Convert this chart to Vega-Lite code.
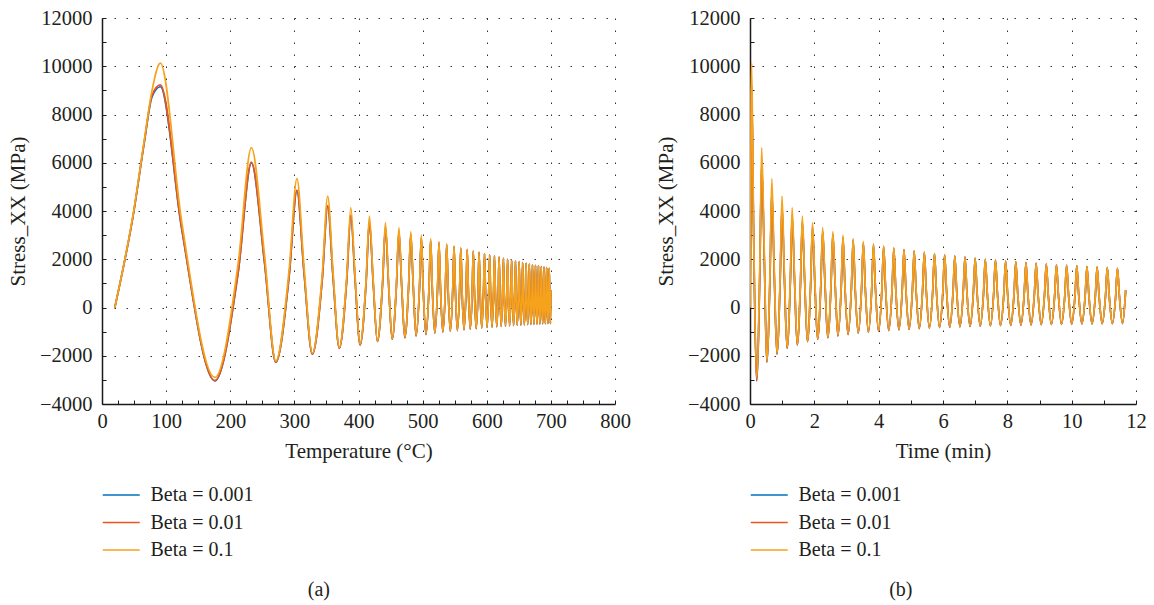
{
  "$schema": "https://vega.github.io/schema/vega-lite/v6.json",
  "background": "white",
  "padding": {"left": 7, "top": 8, "right": 5, "bottom": 3},
  "data": {"values": [
    {"time":0,"temp":20,"b1":0,"b2":0,"b3":0},
    {"time":0.021,"temp":50,"b1":4040,"b2":4050,"b3":4100},
    {"time":0.032,"temp":66,"b1":6850,"b2":6880,"b3":6950},
    {"time":0.04,"temp":78,"b1":8730,"b2":8800,"b3":9000},
    {"time":0.05,"temp":91,"b1":9150,"b2":9230,"b3":10130},
    {"time":0.11,"temp":124,"b1":3300,"b2":3330,"b3":3615},
    {"time":0.205,"temp":176,"b1":-3040,"b2":-3030,"b3":-2900},
    {"time":0.306,"temp":212.5,"b1":1475,"b2":1500,"b3":1862},
    {"time":0.363,"temp":233,"b1":5990,"b2":6030,"b3":6625},
    {"time":0.447,"temp":253.4,"b1":1860,"b2":1885,"b3":2202},
    {"time":0.521,"temp":271,"b1":-2270,"b2":-2260,"b3":-2220},
    {"time":0.622,"temp":291.8,"b1":1285,"b2":1305,"b3":1560},
    {"time":0.679,"temp":304,"b1":4840,"b2":4870,"b3":5340},
    {"time":0.752,"temp":315,"b1":1452,"b2":1470,"b3":1725},
    {"time":0.837,"temp":328,"b1":-1935,"b2":-1930,"b3":-1890},
    {"time":0.938,"temp":343.4,"b1":1132,"b2":1145,"b3":1365},
    {"time":0.995,"temp":352,"b1":4200,"b2":4220,"b3":4620},
    {"time":1.068,"temp":360.3,"b1":1255,"b2":1265,"b3":1485},
    {"time":1.153,"temp":370,"b1":-1690,"b2":-1690,"b3":-1650},
    {"time":1.254,"temp":381.5,"b1":1060,"b2":1065,"b3":1245},
    {"time":1.311,"temp":388,"b1":3810,"b2":3820,"b3":4140},
    {"time":1.384,"temp":394.7,"b1":1130,"b2":1135,"b3":1315},
    {"time":1.469,"temp":402.5,"b1":-1550,"b2":-1550,"b3":-1510},
    {"time":1.57,"temp":411.8,"b1":1005,"b2":1005,"b3":1140},
    {"time":1.627,"temp":417,"b1":3560,"b2":3560,"b3":3790},
    {"time":1.7,"temp":422.8,"b1":1075,"b2":1075,"b3":1205},
    {"time":1.785,"temp":429.5,"b1":-1410,"b2":-1410,"b3":-1380},
    {"time":1.886,"temp":437.5,"b1":960,"b2":960,"b3":1070},
    {"time":1.943,"temp":442,"b1":3330,"b2":3330,"b3":3520},
    {"time":2.016,"temp":446.8,"b1":1008,"b2":1008,"b3":1118},
    {"time":2.101,"temp":452.5,"b1":-1315,"b2":-1315,"b3":-1285},
    {"time":2.202,"temp":459.2,"b1":922,"b2":922,"b3":1012},
    {"time":2.259,"temp":463,"b1":3160,"b2":3160,"b3":3310},
    {"time":2.332,"temp":467.2,"b1":958,"b2":958,"b3":1048},
    {"time":2.417,"temp":472.2,"b1":-1245,"b2":-1245,"b3":-1215},
    {"time":2.518,"temp":478.2,"b1":892,"b2":892,"b3":968},
    {"time":2.575,"temp":481.5,"b1":3030,"b2":3030,"b3":3150},
    {"time":2.648,"temp":485.3,"b1":925,"b2":925,"b3":1000},
    {"time":2.733,"temp":489.8,"b1":-1180,"b2":-1180,"b3":-1150},
    {"time":2.837,"temp":495.2,"b1":860,"b2":860,"b3":925},
    {"time":2.891,"temp":498,"b1":2900,"b2":2900,"b3":3000},
    {"time":2.951,"temp":500.7,"b1":890,"b2":890,"b3":950},
    {"time":3.049,"temp":505.2,"b1":-1120,"b2":-1120,"b3":-1100},
    {"time":3.153,"temp":510,"b1":830,"b2":830,"b3":880},
    {"time":3.207,"temp":512.5,"b1":2780,"b2":2780,"b3":2860},
    {"time":3.267,"temp":515,"b1":858,"b2":858,"b3":908},
    {"time":3.365,"temp":519,"b1":-1065,"b2":-1065,"b3":-1045},
    {"time":3.469,"temp":523.3,"b1":808,"b2":808,"b3":850},
    {"time":3.523,"temp":525.5,"b1":2680,"b2":2680,"b3":2745},
    {"time":3.583,"temp":527.8,"b1":830,"b2":830,"b3":872},
    {"time":3.681,"temp":531.5,"b1":-1020,"b2":-1020,"b3":-1000},
    {"time":3.785,"temp":535.5,"b1":790,"b2":790,"b3":825},
    {"time":3.839,"temp":537.5,"b1":2600,"b2":2600,"b3":2650},
    {"time":3.899,"temp":539.7,"b1":808,"b2":808,"b3":842},
    {"time":3.997,"temp":543.2,"b1":-985,"b2":-985,"b3":-965},
    {"time":4.101,"temp":547,"b1":770,"b2":770,"b3":800},
    {"time":4.155,"temp":549,"b1":2525,"b2":2525,"b3":2565},
    {"time":4.215,"temp":551,"b1":785,"b2":785,"b3":815},
    {"time":4.313,"temp":554.2,"b1":-955,"b2":-955,"b3":-935},
    {"time":4.417,"temp":557.7,"b1":750,"b2":750,"b3":775},
    {"time":4.471,"temp":559.5,"b1":2455,"b2":2455,"b3":2485},
    {"time":4.531,"temp":561.4,"b1":765,"b2":765,"b3":790},
    {"time":4.629,"temp":564.5,"b1":-925,"b2":-925,"b3":-905},
    {"time":4.733,"temp":567.8,"b1":735,"b2":735,"b3":755},
    {"time":4.787,"temp":569.5,"b1":2395,"b2":2395,"b3":2415},
    {"time":4.847,"temp":571.3,"b1":748,"b2":748,"b3":768},
    {"time":4.945,"temp":574.2,"b1":-900,"b2":-900,"b3":-880},
    {"time":5.049,"temp":577.4,"b1":720,"b2":720,"b3":735},
    {"time":5.103,"temp":579,"b1":2340,"b2":2340,"b3":2350},
    {"time":5.163,"temp":580.7,"b1":732,"b2":732,"b3":748},
    {"time":5.261,"temp":583.5,"b1":-875,"b2":-875,"b3":-855},
    {"time":5.365,"temp":586.5,"b1":708,"b2":708,"b3":718},
    {"time":5.419,"temp":588,"b1":2290,"b2":2290,"b3":2290},
    {"time":5.479,"temp":589.6,"b1":720,"b2":720,"b3":728},
    {"time":5.577,"temp":592.2,"b1":-850,"b2":-850,"b3":-835},
    {"time":5.681,"temp":595,"b1":692,"b2":692,"b3":700},
    {"time":5.735,"temp":596.5,"b1":2235,"b2":2235,"b3":2235},
    {"time":5.795,"temp":598,"b1":702,"b2":702,"b3":710},
    {"time":5.893,"temp":600.5,"b1":-830,"b2":-830,"b3":-815},
    {"time":5.997,"temp":603.1,"b1":675,"b2":675,"b3":682},
    {"time":6.051,"temp":604.5,"b1":2180,"b2":2180,"b3":2180},
    {"time":6.111,"temp":605.9,"b1":682,"b2":682,"b3":690},
    {"time":6.209,"temp":608.2,"b1":-815,"b2":-815,"b3":-800},
    {"time":6.313,"temp":610.7,"b1":658,"b2":658,"b3":665},
    {"time":6.367,"temp":612,"b1":2130,"b2":2130,"b3":2130},
    {"time":6.427,"temp":613.4,"b1":665,"b2":665,"b3":672},
    {"time":6.525,"temp":615.6,"b1":-800,"b2":-800,"b3":-785},
    {"time":6.629,"temp":618,"b1":642,"b2":642,"b3":650},
    {"time":6.683,"temp":619.2,"b1":2085,"b2":2085,"b3":2085},
    {"time":6.743,"temp":620.5,"b1":650,"b2":650,"b3":658},
    {"time":6.841,"temp":622.6,"b1":-785,"b2":-785,"b3":-770},
    {"time":6.945,"temp":624.8,"b1":628,"b2":628,"b3":635},
    {"time":6.999,"temp":626,"b1":2040,"b2":2040,"b3":2040},
    {"time":7.059,"temp":627.2,"b1":634,"b2":634,"b3":642},
    {"time":7.157,"temp":629.2,"b1":-772,"b2":-772,"b3":-757},
    {"time":7.261,"temp":631.4,"b1":614,"b2":614,"b3":622},
    {"time":7.315,"temp":632.5,"b1":2000,"b2":2000,"b3":2000},
    {"time":7.375,"temp":633.7,"b1":620,"b2":620,"b3":628},
    {"time":7.473,"temp":635.6,"b1":-760,"b2":-760,"b3":-745},
    {"time":7.577,"temp":637.7,"b1":600,"b2":600,"b3":608},
    {"time":7.631,"temp":638.8,"b1":1960,"b2":1960,"b3":1960},
    {"time":7.691,"temp":639.9,"b1":606,"b2":606,"b3":613},
    {"time":7.789,"temp":641.8,"b1":-749,"b2":-749,"b3":-734},
    {"time":7.893,"temp":643.8,"b1":588,"b2":588,"b3":596},
    {"time":7.947,"temp":644.8,"b1":1925,"b2":1925,"b3":1925},
    {"time":8.007,"temp":645.9,"b1":594,"b2":594,"b3":601},
    {"time":8.105,"temp":647.6,"b1":-738,"b2":-738,"b3":-723},
    {"time":8.209,"temp":649.5,"b1":576,"b2":576,"b3":584},
    {"time":8.263,"temp":650.5,"b1":1890,"b2":1890,"b3":1890},
    {"time":8.323,"temp":651.5,"b1":581,"b2":581,"b3":588},
    {"time":8.421,"temp":653.2,"b1":-728,"b2":-728,"b3":-713},
    {"time":8.525,"temp":655,"b1":565,"b2":565,"b3":572},
    {"time":8.579,"temp":656,"b1":1858,"b2":1858,"b3":1858},
    {"time":8.639,"temp":657,"b1":570,"b2":570,"b3":577},
    {"time":8.737,"temp":658.6,"b1":-719,"b2":-719,"b3":-704},
    {"time":8.841,"temp":660.4,"b1":555,"b2":555,"b3":562},
    {"time":8.895,"temp":661.3,"b1":1828,"b2":1828,"b3":1828},
    {"time":8.955,"temp":662.3,"b1":558,"b2":558,"b3":566},
    {"time":9.053,"temp":663.8,"b1":-711,"b2":-711,"b3":-696},
    {"time":9.157,"temp":665.5,"b1":544,"b2":544,"b3":552},
    {"time":9.211,"temp":666.4,"b1":1800,"b2":1800,"b3":1800},
    {"time":9.271,"temp":667.3,"b1":548,"b2":548,"b3":556},
    {"time":9.369,"temp":668.8,"b1":-703,"b2":-703,"b3":-688},
    {"time":9.473,"temp":670.5,"b1":535,"b2":535,"b3":542},
    {"time":9.527,"temp":671.3,"b1":1773,"b2":1773,"b3":1773},
    {"time":9.587,"temp":672.2,"b1":538,"b2":538,"b3":546},
    {"time":9.685,"temp":673.6,"b1":-696,"b2":-696,"b3":-681},
    {"time":9.789,"temp":675.2,"b1":526,"b2":526,"b3":534},
    {"time":9.843,"temp":676,"b1":1748,"b2":1748,"b3":1748},
    {"time":9.903,"temp":676.9,"b1":529,"b2":529,"b3":536},
    {"time":10.001,"temp":678.3,"b1":-690,"b2":-690,"b3":-675},
    {"time":10.105,"temp":679.8,"b1":517,"b2":517,"b3":524},
    {"time":10.159,"temp":680.6,"b1":1724,"b2":1724,"b3":1724},
    {"time":10.219,"temp":681.4,"b1":520,"b2":520,"b3":528},
    {"time":10.317,"temp":682.8,"b1":-684,"b2":-684,"b3":-669},
    {"time":10.421,"temp":684.3,"b1":508,"b2":508,"b3":516},
    {"time":10.475,"temp":685,"b1":1700,"b2":1700,"b3":1700},
    {"time":10.535,"temp":685.8,"b1":510,"b2":510,"b3":518},
    {"time":10.633,"temp":687.2,"b1":-679,"b2":-679,"b3":-664},
    {"time":10.737,"temp":688.6,"b1":498,"b2":498,"b3":506},
    {"time":10.791,"temp":689.3,"b1":1675,"b2":1675,"b3":1675},
    {"time":10.851,"temp":690.1,"b1":500,"b2":500,"b3":508},
    {"time":10.949,"temp":691.4,"b1":-674,"b2":-674,"b3":-659},
    {"time":11.053,"temp":692.7,"b1":488,"b2":488,"b3":496},
    {"time":11.107,"temp":693.4,"b1":1650,"b2":1650,"b3":1650},
    {"time":11.167,"temp":694.2,"b1":490,"b2":490,"b3":498},
    {"time":11.265,"temp":695.4,"b1":-670,"b2":-670,"b3":-655},
    {"time":11.369,"temp":696.7,"b1":478,"b2":478,"b3":485},
    {"time":11.423,"temp":697.4,"b1":1625,"b2":1625,"b3":1625},
    {"time":11.483,"temp":698.1,"b1":480,"b2":480,"b3":487},
    {"time":11.581,"temp":699.3,"b1":-666,"b2":-666,"b3":-651},
    {"time":11.68,"temp":700,"b1":720,"b2":720,"b3":720}
  ]},
  "transform": [{"fold": ["b1", "b2", "b3"], "as": ["series", "stress"]}],
  "spacing": 24,
  "resolve": {"scale": {"color": "independent"}, "legend": {"color": "independent"}},
  "hconcat": [
    {
      "width": 513,
      "height": 386,
      "title": {"text": "(a)"},
      "mark": {"type": "line", "interpolate": "monotone", "strokeWidth": 1.7, "clip": true},
      "encoding": {
        "x": {
          "field": "temp", "type": "quantitative",
          "scale": {"domain": [0, 800], "nice": false, "zero": false},
          "axis": {
            "title": "Temperature (°C)", "format": "d",
            "values": [0,25,50,75,100,125,150,175,200,225,250,275,300,325,350,375,400,425,450,475,500,525,550,575,600,625,650,675,700,725,750,775,800],
            "labelExpr": "datum.value % 100 === 0 ? datum.label : ''",
            "gridOpacity": {"condition": {"test": "datum.value % 100 === 0", "value": 1}, "value": 0}
          }
        },
        "y": {
          "field": "stress", "type": "quantitative",
          "scale": {"domain": [-4000, 12000], "nice": false, "zero": false},
          "axis": {
            "title": "Stress_XX (MPa)", "format": "d",
            "values": [-4000,-3000,-2000,-1000,0,1000,2000,3000,4000,5000,6000,7000,8000,9000,10000,11000,12000],
            "labelExpr": "datum.value % 2000 === 0 ? datum.label : ''",
            "gridOpacity": {"condition": {"test": "datum.value % 2000 === 0", "value": 1}, "value": 0}
          }
        },
        "color": {
          "field": "series", "type": "nominal",
          "scale": {"domain": ["b1", "b2", "b3"], "range": ["#0072BD", "#E9541F", "#F5A31C"]},
          "legend": {"labelExpr": "datum.label === 'b1' ? 'Beta = 0.001' : datum.label === 'b2' ? 'Beta = 0.01' : 'Beta = 0.1'"}
        }
      }
    },
    {
      "width": 386,
      "height": 386,
      "title": {"text": "(b)"},
      "mark": {"type": "line", "interpolate": "monotone", "strokeWidth": 1.7, "clip": true},
      "encoding": {
        "x": {
          "field": "time", "type": "quantitative",
          "scale": {"domain": [0, 12], "nice": false, "zero": false},
          "axis": {
            "title": "Time (min)", "format": "d",
            "values": [0,0.5,1,1.5,2,2.5,3,3.5,4,4.5,5,5.5,6,6.5,7,7.5,8,8.5,9,9.5,10,10.5,11,11.5,12],
            "labelExpr": "datum.value % 2 === 0 ? datum.label : ''",
            "gridOpacity": {"condition": {"test": "datum.value % 2 === 0", "value": 1}, "value": 0}
          }
        },
        "y": {
          "field": "stress", "type": "quantitative",
          "scale": {"domain": [-4000, 12000], "nice": false, "zero": false},
          "axis": {
            "title": "Stress_XX (MPa)", "format": "d",
            "values": [-4000,-3000,-2000,-1000,0,1000,2000,3000,4000,5000,6000,7000,8000,9000,10000,11000,12000],
            "labelExpr": "datum.value % 2000 === 0 ? datum.label : ''",
            "gridOpacity": {"condition": {"test": "datum.value % 2000 === 0", "value": 1}, "value": 0}
          }
        },
        "color": {
          "field": "series", "type": "nominal",
          "scale": {"domain": ["b1", "b2", "b3"], "range": ["#0072BD", "#E9541F", "#F5A31C"]},
          "legend": {"labelExpr": "datum.label === 'b1' ? 'Beta = 0.001' : datum.label === 'b2' ? 'Beta = 0.01' : 'Beta = 0.1'"}
        }
      }
    }
  ],
  "config": {
    "view": {"stroke": null},
    "font": "Liberation Serif",
    "axis": {
      "domainColor": "#1a1a1a", "domainWidth": 1.5,
      "tickColor": "#1a1a1a", "tickWidth": 1, "tickSize": -4,
      "labelFont": "Liberation Serif", "labelFontSize": 20.5, "labelColor": "#231f20",
      "labelFlush": false, "labelOverlap": false,
      "titleFont": "Liberation Serif", "titleFontSize": 21, "titleFontWeight": "normal", "titleColor": "#231f20",
      "titlePadding": 9,
      "gridColor": "#333333", "gridDash": [1.5, 10.5], "gridWidth": 1
    },
    "axisX": {"labelPadding": 11},
    "axisY": {"labelPadding": 14, "titlePadding": 11},
    "legend": {
      "orient": "bottom", "direction": "vertical", "title": null,
      "symbolType": "M-1,0H3", "symbolSize": 342, "symbolStrokeWidth": 1.5,
      "labelFont": "Liberation Serif", "labelFontSize": 20, "labelColor": "#231f20",
      "labelOffset": 28.5, "rowPadding": 7.5, "offset": 23
    },
    "title": {
      "orient": "bottom", "anchor": "middle", "frame": "bounds",
      "font": "Liberation Serif", "fontSize": 20, "fontWeight": "normal", "color": "#231f20", "offset": 20
    }
  }
}
